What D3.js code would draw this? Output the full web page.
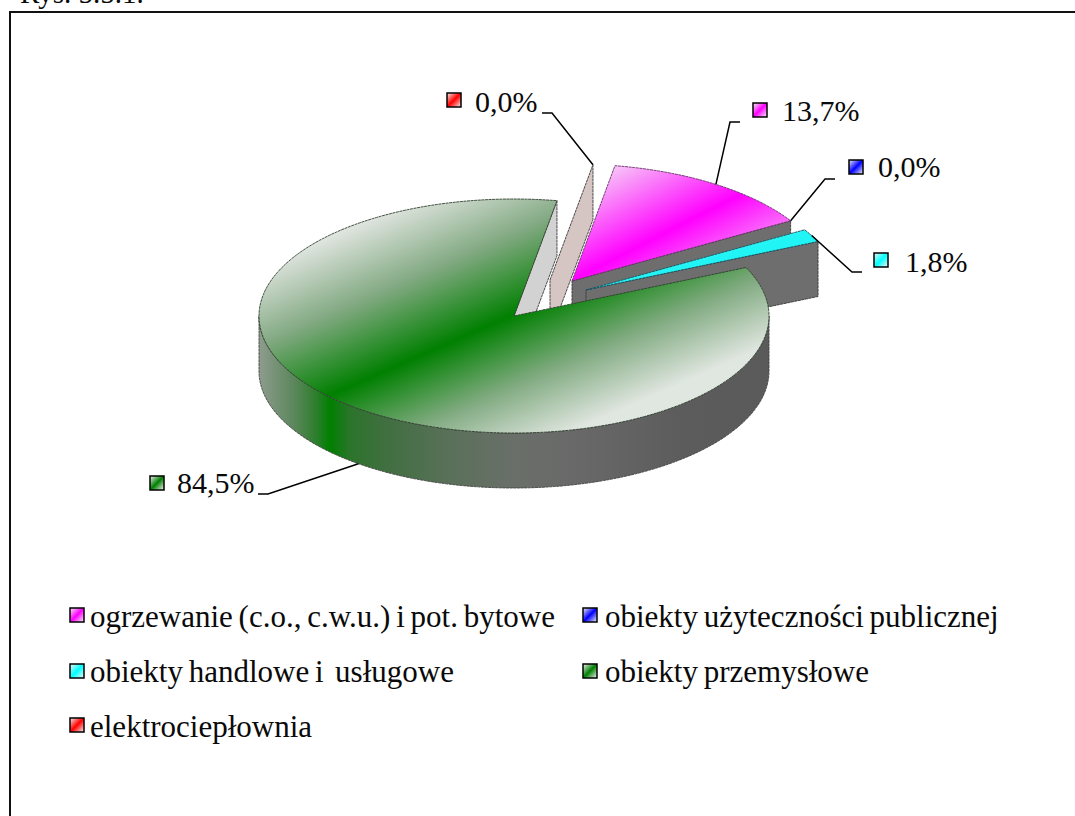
<!DOCTYPE html>
<html>
<head>
<meta charset="utf-8">
<title>Rys. 5.5.1.</title>
<script src="https://d3js.org/d3.v7.min.js"></script>
<style>
	html, body { margin: 0; padding: 0; background: #fff; overflow: hidden; }
	svg { display: block; }
	text { font-family: "Liberation Serif", serif; fill: #0a0a0a; white-space: pre; }
</style>
</head>
<body>
<div id="chart"></div>
<script>
// Data
var categories = [
	"ogrzewanie (c.o., c.w.u.) i pot. bytowe",
	"obiekty użyteczności publicznej",
	"obiekty handlowe i  usługowe",
	"obiekty przemysłowe",
	"elektrociepłownia"
];
var shares = [13.7, 0, 1.8, 84.5, 0];
var captionText = "Rys. 5.5.1.";

var sliceColors = ["#ff00ff", "#0000ff", "#00ffff", "#008000", "#ff0000"];

// Layout
var width = 1075, height = 816;
var center = { x: 514, y: 316 };
var radiusX = 255, radiusY = 117, depth = 55;
var firstAngle = 9.7 * Math.PI / 180;

// how far each slice is pulled out of the pie, in pixels
var pullOut = [[58, -35], [58, -35], [72, -26], [0, 0], [36, -36]];

// where each label sits: swatch corner, text start, baseline, leader elbow
var labelBoxes = [
	{ sx: 753, sy: 103, tx: 782, ty: 121, lx: [740, 730], ly: 122 },
	{ sx: 849, sy: 160, tx: 878, ty: 177, lx: [835, 825], ly: 179 },
	{ sx: 874, sy: 253, tx: 905, ty: 272, lx: [862, 852], ly: 272 },
	{ sx: 150, sy: 476, tx: 177, ty: 493, lx: [258, 268], ly: 494 },
	{ sx: 447, sy: 93, tx: 475, ty: 112, lx: [542, 552], ly: 113 }
];
var legendBoxes = [
	{ sx: 70, sy: 608, tx: 90, ty: 627 },
	{ sx: 583, sy: 608, tx: 605, ty: 627 },
	{ sx: 70, sy: 664, tx: 90, ty: 682 },
	{ sx: 583, sy: 664, tx: 605, ty: 682 },
	{ sx: 70, sy: 718, tx: 90, ty: 737 }
];

var svg = d3.select("#chart").append("svg")
	.attr("width", width)
	.attr("height", height);

var defs = svg.append("defs");

var ellipseX = d3.scaleLinear().domain([-1, 1]).range([-radiusX, radiusX]);
var ellipseY = d3.scaleLinear().domain([-1, 1]).range([-radiusY, radiusY]);
var percent = d3.formatLocale({ decimal: ",", thousands: " ", grouping: [3], currency: ["", ""] }).format(".1f");
var line = d3.line();

var slices = d3.pie().sort(null)
	.startAngle(firstAngle)
	.endAngle(firstAngle + 2 * Math.PI)(shares);

// point on the rim of slice i at a given angle, clockwise from the top
function rimPoint(i, angle, drop) {
	return [
		center.x + pullOut[i][0] + ellipseX(Math.sin(angle)),
		center.y + pullOut[i][1] + ellipseY(-Math.cos(angle)) + (drop || 0)
	];
}

function apex(i, drop) {
	return [center.x + pullOut[i][0], center.y + pullOut[i][1] + (drop || 0)];
}

function rimRun(i, from, to, drop) {
	var steps = Math.max(2, Math.ceil(Math.abs(to - from) / 0.02));
	return d3.range(steps + 1).map(function(k) {
		return rimPoint(i, from + (to - from) * k / steps, drop);
	});
}

// Gradients
function bandGradient(id, x, y, nx, ny, half, stops) {
	var g = defs.append("linearGradient")
		.attr("id", id)
		.attr("gradientUnits", "userSpaceOnUse")
		.attr("x1", x - nx * half).attr("y1", y - ny * half)
		.attr("x2", x + nx * half).attr("y2", y + ny * half);
	g.selectAll("stop").data(stops).enter().append("stop")
		.attr("offset", function(d) { return d[0]; })
		.attr("stop-color", function(d) { return d[1]; });
}

bandGradient("topGreen", 417, 349, 0.403, 0.917, 137.5, [
	[0, "#dfe4df"], [0.264, "#80a880"], [0.527, "#008000"], [0.763, "#80aa80"], [1, "#e0e6e0"]
]);
bandGradient("topPink", 573, 280, 0.455, 0.891, 92, [[0, "#f6dcf6"], [0.5, "#ff00ff"], [1, "#f6dcf6"]]);
bandGradient("topCyan", 700, 262, 0.26, 0.96, 60, [[0, "#d0ffff"], [0.5, "#20f4f4"], [1, "#20f4f4"]]);

var rimStops = [
	[0, "#8e9c8e"], [0.07, "#5a865a"], [0.11, "#2f7f2f"], [0.139, "#008000"],
	[0.18, "#2c742c"], [0.243, "#3f6f3f"], [0.375, "#5a705a"], [0.506, "#6a6f6a"],
	[0.635, "#686868"], [0.83, "#5c5c5c"], [1, "#5a5a5a"]
];
var rimGrad = defs.append("linearGradient")
	.attr("id", "rimGreen")
	.attr("gradientUnits", "userSpaceOnUse")
	.attr("x1", center.x - radiusX).attr("y1", 0)
	.attr("x2", center.x + radiusX).attr("y2", 0);
rimGrad.selectAll("stop").data(rimStops).enter().append("stop")
	.attr("offset", function(d) { return d[0]; })
	.attr("stop-color", function(d) { return d[1]; });

sliceColors.forEach(function(c, i) {
	var g = defs.append("linearGradient")
		.attr("id", "swatch" + i)
		.attr("x1", 0).attr("y1", 0)
		.attr("x2", 1).attr("y2", 1);
	g.append("stop").attr("offset", 0).attr("stop-color", "#f4f4f4");
	g.append("stop").attr("offset", 0.5).attr("stop-color", c);
	g.append("stop").attr("offset", 1).attr("stop-color", "#f4f4f4");
});

// Frame (only the top and left edges show in the picture) and clipped caption
svg.append("path")
	.attr("d", line([[10, height], [10, 12], [width, 12]]))
	.attr("fill", "none")
	.attr("stroke", "#111")
	.attr("stroke-width", 2);

svg.append("text")
	.attr("x", 20)
	.attr("y", 3)
	.attr("font-size", 29)
	.text(captionText);

// Pie, painted back to front
var pie = svg.append("g")
	.attr("stroke-linejoin", "round");

function face(points, fill, stroke) {
	pie.append("path")
		.attr("d", line(points) + "Z")
		.attr("fill", fill)
		.attr("stroke", stroke || "#3a3a3a")
		.attr("stroke-width", 0.9)
		.attr("stroke-dasharray", "3 0.6");
}

// cut face below one radial edge of a slice
function wall(i, angle, fill, stroke) {
	face([apex(i), rimPoint(i, angle), rimPoint(i, angle, depth), apex(i, depth)], fill, stroke);
}

function topFace(i, fill, stroke) {
	var s = slices[i];
	face([apex(i)].concat(rimRun(i, s.startAngle, s.endAngle)), fill, stroke);
}

wall(4, slices[4].startAngle, "#d6c6c3");
wall(0, slices[0].endAngle, "#6e6e6e");
topFace(0, "url(#topPink)", "#6a2f6a");
wall(2, slices[2].endAngle, "#6e6e6e");
topFace(2, "url(#topCyan)", "#1f4f5f");
wall(3, slices[3].endAngle, "#d2d2d2");

// green rim: only the front half of the ellipse faces the viewer
var rimFrom = Math.PI / 2, rimTo = 3 * Math.PI / 2;
face(rimRun(3, rimFrom, rimTo).concat(rimRun(3, rimTo, rimFrom, depth)), "url(#rimGreen)", "#444");
topFace(3, "url(#topGreen)", "#2f3f2f");

// Data labels and leaders
var labels = svg.append("g").selectAll("g")
	.data(labelBoxes)
	.enter().append("g");

labels.append("path")
	.attr("d", function(d, i) {
		var s = slices[i];
		var mid = (s.startAngle + s.endAngle) / 2;
		var facesFront = Math.cos(mid) < 0;
		return line([
			[d.lx[0], d.ly],
			[d.lx[1], d.ly],
			rimPoint(i, mid, facesFront ? depth : 0)
		]);
	})
	.attr("fill", "none")
	.attr("stroke", "#000")
	.attr("stroke-width", 1.5);

function swatch(selection, size) {
	selection.append("rect")
		.attr("x", function(d) { return d.sx; })
		.attr("y", function(d) { return d.sy; })
		.attr("width", size)
		.attr("height", size)
		.attr("fill", function(d, i) { return "url(#swatch" + i + ")"; })
		.attr("stroke", "#000")
		.attr("stroke-width", 1.5);
}

swatch(labels, 14);

labels.append("text")
	.attr("x", function(d) { return d.tx; })
	.attr("y", function(d) { return d.ty; })
	.attr("font-size", 30)
	.text(function(d, i) { return percent(shares[i]) + "%"; });

// Legend: letters run a little wider and the spaces tighter than the plain font
var legend = svg.append("g").selectAll("g")
	.data(legendBoxes)
	.enter().append("g");

swatch(legend, 14);

legend.append("text")
	.attr("x", function(d) { return d.tx; })
	.attr("y", function(d) { return d.ty; })
	.attr("font-size", 31)
	.attr("word-spacing", -2)
	.text(function(d, i) { return categories[i]; });
</script>
</body>
</html>
